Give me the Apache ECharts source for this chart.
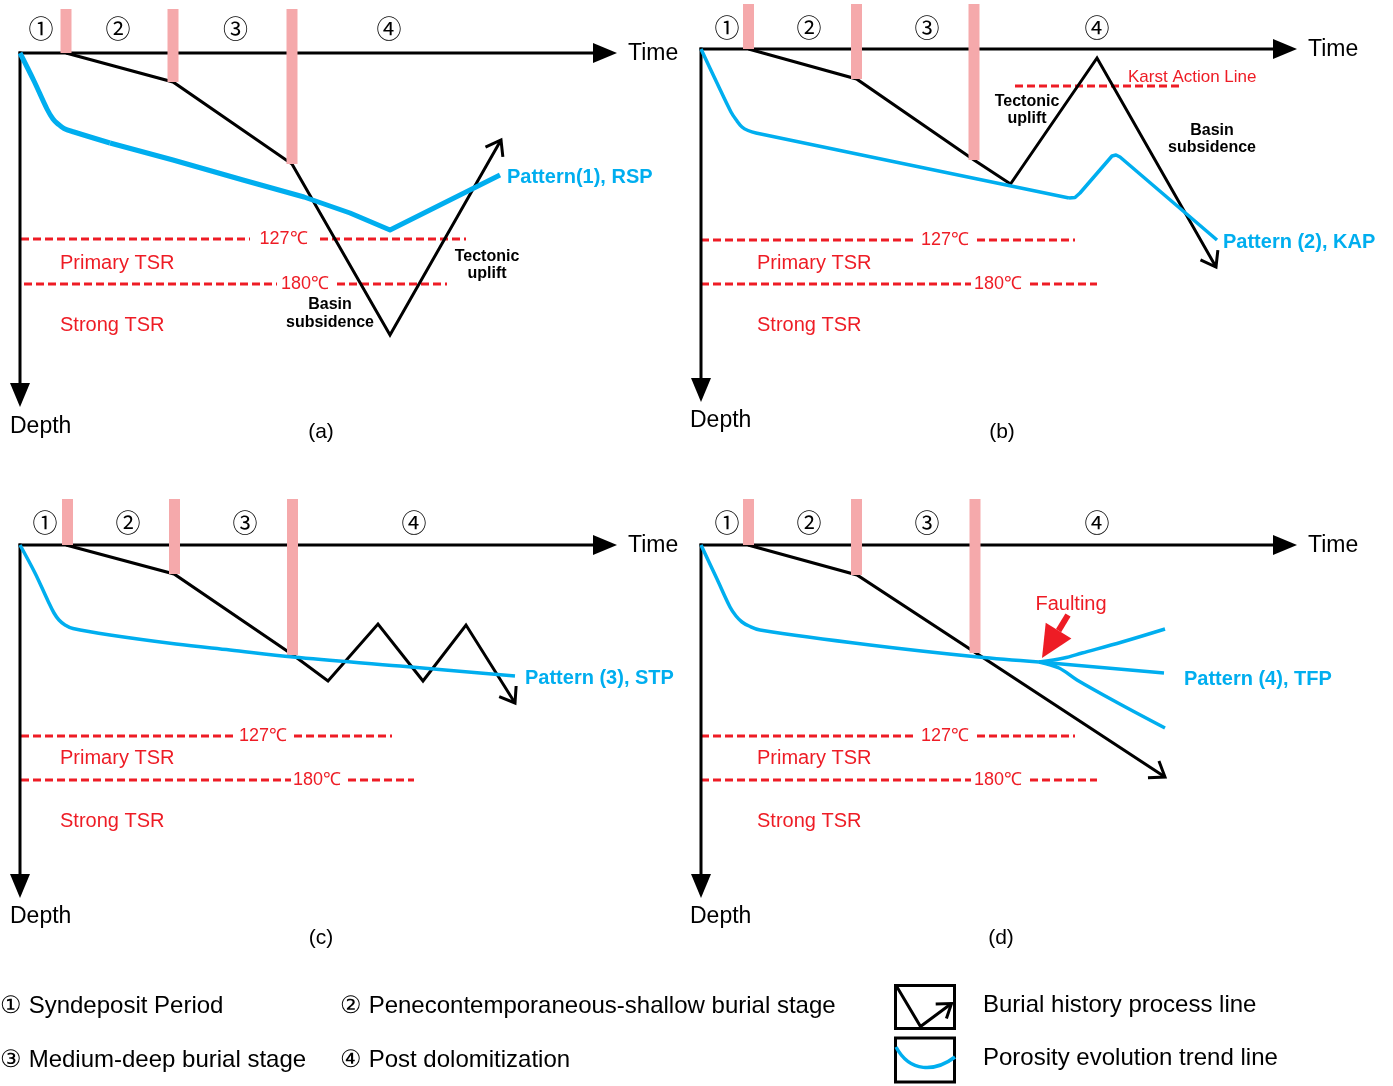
<!DOCTYPE html>
<html><head><meta charset="utf-8">
<script src="https://cdn.jsdelivr.net/npm/echarts@6/dist/echarts.min.js"></script>
<style>html,body{margin:0;padding:0;background:#fff}#c{width:1393px;height:1086px}</style>
</head><body><div id="c"></div>
<script>
// ---------------- DATA (time units → right, depth units → down) ----------------
const stageLabels = ['①', '②', '③', '④'];
const panelLetters = ['(a)', '(b)', '(c)', '(d)'];
const patternNames = ['Pattern(1), RSP', 'Pattern (2), KAP', 'Pattern (3), STP', 'Pattern (4), TFP'];
const tempLabels = ['127℃', '180℃'];
const zoneLabels = ['Primary TSR', 'Strong TSR'];
const axisNames = ['Time', 'Depth'];
const legendStages = ['① Syndeposit Period', '② Penecontemporaneous-shallow burial stage',
                      '③ Medium-deep burial stage', '④ Post dolomitization'];
const legendLines = ['Burial history process line', 'Porosity evolution trend line'];

// Panel (a) — Pattern(1), RSP
const burialA = [[46, 0], [153, 29], [272, 111], [370, 282], [481, 87]];
const porosityA = [[0, 0], [14, 28], [27, 56], [33, 66], [38, 71], [44, 75.5], [54, 79], [90, 90], [153, 107],
                   [223, 127], [284, 144], [330, 160], [370, 177], [480, 122]];
const stageXA = [46, 153, 272];
const stageDepthA = [0, 29, 111];
const tempDepthA = [186, 231];
const temp127SegA = [[1, 230], [300, 446]];
const temp180SegA = [[4, 257], [317, 427]];

// Panel (b) — Pattern (2), KAP
const burialB = [[47.5, 0], [155.5, 30], [273, 111], [309.5, 135], [396, 9], [515, 218]];
const porosityB = [[0, 0], [16, 34], [30, 63], [36, 72], [41, 78], [47, 81.5], [55, 84], [368, 149], [374, 148.5],
                   [379, 144], [411, 107], [415, 106], [419, 108], [516, 191]];
const stageXB = [47.5, 155.5, 273];
const stageDepthB = [0, 30, 111];
const tempDepthB = [191, 235];
const temp127SegB = [[0, 216], [276, 374]];
const temp180SegB = [[0, 270], [329, 396]];
const karstDepthB = 37;
const karstSegB = [314, 480];

// Panel (c) — Pattern (3), STP
const burialC = [[46, 0], [154, 29], [273, 110], [308, 136], [358, 79], [403, 136], [446, 80], [495, 158]];
const porosityC = [[0, 0], [15, 28], [28, 56], [34, 68], [39, 75], [45, 80], [53, 83.5], [90, 90],
                   [156, 99], [210, 105], [273, 112], [380, 121], [495, 131]];
const stageXC = [47.5, 154.5, 272.5];
const stageDepthC = [0, 29, 110];
const tempDepthC = [191, 235];
const temp127SegC = [[1, 216], [274, 372]];
const temp180SegC = [[1, 271], [328, 394]];

// Panel (d) — Pattern (4), TFP
const burialD = [[47, 0], [156, 30], [464, 232]];
const porosityD = [[0, 0], [16, 34], [29, 62], [35, 71], [41, 77], [48, 81], [59, 85], [169, 100],
                   [277, 112], [338, 117]];
const porosityUpD = [[338, 117], [363, 113], [381, 108], [421, 97], [464, 84]];
const porosityMidD = [[338, 117], [463, 128]];
const porosityDownD = [[338, 117], [358, 123], [376, 135], [417, 158], [464, 183]];
const stageXD = [47.5, 155.5, 274];
const stageDepthD = [0, 30, 108];
const tempDepthD = [191, 235];
const temp127SegD = [[0, 216], [276, 374]];
const temp180SegD = [[0, 270], [329, 396]];
const faultArrowD = [[367, 70], [341, 113]];

// ---------------- STYLE ----------------
const BLACK = '#000000', BLUE = '#00AEEF', RED = '#EE1C25', PINK = '#F5A9AB';
const FONT = '"Liberation Sans", Arial, sans-serif';

function headPts(p, q, len, half) {
  const dx = q[0] - p[0], dy = q[1] - p[1], L = Math.hypot(dx, dy) || 1;
  const ux = dx / L, uy = dy / L;
  const bx = q[0] - ux * len, by = q[1] - uy * len;
  return [[bx - uy * half, by + ux * half], [q[0], q[1]], [bx + uy * half, by - ux * half]];
}

// each porosity curve: [points, index where the smooth knee ends (null = whole curve smooth, -1 = none)]
const panels = [
  { origin: [20, 53], burial: burialA, porosity: [[porosityA, 6]], blueW: 5, stageX: stageXA, stageDepth: stageDepthA, barTop: -44,
    temps: [{ d: tempDepthA[0], segs: temp127SegA, lx: 263.5 }, { d: tempDepthA[1], segs: temp180SegA, lx: 285 }],
    tips: [597, 354], stageLX: [21, 98, 215.5, 369], stageLY: -25, zoneX: 40, zoneY: [210, 272],
    patternAt: [487, 124], timeAt: [608, 1], depthAt: [-10, 374], letterAt: [301, 379],
    notes: [['Basin', 310, 252], ['subsidence', 310, 270], ['Tectonic', 467, 204], ['uplift', 467, 221]] },
  { origin: [701, 49], burial: burialB, porosity: [[porosityB, 6]], blueW: 3.5, stageX: stageXB, stageDepth: stageDepthB, barTop: -45,
    temps: [{ d: tempDepthB[0], segs: temp127SegB, lx: 244 }, { d: tempDepthB[1], segs: temp180SegB, lx: 297 }],
    tips: [596, 353], stageLX: [26, 108, 226, 396], stageLY: -22, zoneX: 56, zoneY: [214, 276],
    patternAt: [522, 193], timeAt: [607, 1], depthAt: [-11, 372], letterAt: [301, 383],
    notes: [['Tectonic', 326, 53], ['uplift', 326, 70], ['Basin', 511, 82], ['subsidence', 511, 99]],
    karst: true },
  { origin: [20, 545], burial: burialC, porosity: [[porosityC, null]], blueW: 3.5, stageX: stageXC, stageDepth: stageDepthC, barTop: -46,
    temps: [{ d: tempDepthC[0], segs: temp127SegC, lx: 243 }, { d: tempDepthC[1], segs: temp180SegC, lx: 297 }],
    tips: [597, 353], stageLX: [25, 108, 225, 394], stageLY: -23, zoneX: 40, zoneY: [213, 276],
    patternAt: [505, 133], timeAt: [608, 1], depthAt: [-10, 372], letterAt: [301, 393], notes: [] },
  { origin: [701, 545], burial: burialD,
    porosity: [[porosityD, null], [porosityUpD, null], [porosityMidD, -1], [porosityDownD, null]], blueW: 3.5,
    stageX: stageXD, stageDepth: stageDepthD, barTop: -46,
    temps: [{ d: tempDepthD[0], segs: temp127SegD, lx: 244 }, { d: tempDepthD[1], segs: temp180SegD, lx: 297 }],
    tips: [596, 353], stageLX: [26, 108, 226, 396], stageLY: -23, zoneX: 56, zoneY: [213, 276],
    patternAt: [483, 134], timeAt: [607, 1], depthAt: [-11, 372], letterAt: [300, 393], notes: [],
    fault: true }
];

const YMIN = -48, YMAX = 360, XMAX = 600;
const grids = [], xAxes = [], yAxes = [], series = [];

const textStyles = {
  stage: { font: '25px "Noto Sans CJK SC", "DejaVu Sans", sans-serif', fill: BLACK, align: 'center' },
  temp: { font: '18px ' + FONT, fill: RED, align: 'center' },
  zone: { font: '20px ' + FONT, fill: RED, align: 'left' },
  note: { font: 'bold 16px ' + FONT, fill: BLACK, align: 'center' },
  pattern: { font: 'bold 20px ' + FONT, fill: BLUE, align: 'left' },
  axis: { font: '23px ' + FONT, fill: BLACK, align: 'left' },
  letter: { font: '21px ' + FONT, fill: BLACK, align: 'center' },
  karst: { font: '17px ' + FONT, fill: RED, align: 'left' },
  fault: { font: '20px ' + FONT, fill: RED, align: 'center' }
};

function lineSeries(g, data, color, width, z, dash, smooth) {
  return { type: 'line', xAxisIndex: g, yAxisIndex: g, data: data, symbol: 'none', showSymbol: false,
    silent: true, clip: false, z: z, animation: false, smooth: smooth || false,
    lineStyle: { color: color, width: width, type: dash || 'solid', cap: 'butt', join: 'round' } };
}

panels.forEach(function (P, g) {
  grids.push({ left: P.origin[0], top: P.origin[1] + YMIN, width: XMAX, height: YMAX - YMIN });
  xAxes.push({ gridIndex: g, type: 'value', min: 0, max: XMAX, show: false });
  yAxes.push({ gridIndex: g, type: 'value', min: YMIN, max: YMAX, inverse: true, show: false });

  // temperature dashed lines
  P.temps.forEach(function (t) {
    t.segs.forEach(function (s) {
      series.push(lineSeries(g, [[s[0], t.d], [s[1], t.d]], RED, 3, 3, [8, 4]));
    });
  });
  if (P.karst) series.push(lineSeries(g, [[karstSegB[0], karstDepthB], [karstSegB[1], karstDepthB]], RED, 3, 3, [8, 4]));

  // burial history line
  const b = lineSeries(g, P.burial, BLACK, 3, 5);
  b.lineStyle.join = 'miter';
  series.push(b);

  // stage boundary bars
  P.stageX.forEach(function (x, i) {
    series.push(lineSeries(g, [[x, P.barTop], [x, P.stageDepth[i]]], PINK, 11, 6));
  });

  // porosity lines
  P.porosity.forEach(function (c) {
    const arr = c[0], k = c[1];
    if (k === null) {
      series.push(lineSeries(g, arr, BLUE, P.blueW, 7, null, 0.35));
    } else if (k < 0) {
      series.push(lineSeries(g, arr, BLUE, P.blueW, 7));
    } else {
      series.push(lineSeries(g, arr.slice(0, k + 2), BLUE, P.blueW, 7, null, 0.35));
      series.push(lineSeries(g, arr.slice(k + 1), BLUE, P.blueW, 7));
    }
  });

  // decorations: axes with arrow heads, burial end chevron, fault arrow
  const decor = [
    { k: 'axis', from: [-1.5, 0], to: [P.tips[0], 0] },
    { k: 'axis', from: [0, -1.5], to: [0, P.tips[1]] },
    { k: 'chev', line: P.burial }
  ];
  if (P.fault) decor.push({ k: 'fat', from: faultArrowD[0], to: faultArrowD[1] });
  series.push({
    type: 'custom', xAxisIndex: g, yAxisIndex: g, z: 5, silent: true, animation: false,
    data: decor.map(function () { return [0, 0]; }),
    renderItem: function (params, api) {
      const it = decor[params.dataIndex];
      if (it.k === 'axis') {
        const p = api.coord(it.from), q = api.coord(it.to);
        const h = headPts(p, q, 24, 10);
        const base = [(h[0][0] + h[2][0]) / 2, (h[0][1] + h[2][1]) / 2];
        return { type: 'group', children: [
          { type: 'line', shape: { x1: p[0], y1: p[1], x2: base[0], y2: base[1] }, style: { stroke: BLACK, lineWidth: 3 } },
          { type: 'polygon', shape: { points: h }, style: { fill: BLACK } }
        ] };
      }
      if (it.k === 'chev') {
        const n = it.line.length;
        const p = api.coord(it.line[n - 2]), q = api.coord(it.line[n - 1]);
        const h = headPts(p, q, 13.8, 10);
        return { type: 'polyline', shape: { points: h }, style: { stroke: BLACK, lineWidth: 3, fill: null, lineJoin: 'miter' } };
      }
      const p = api.coord(it.from), q = api.coord(it.to);
      const h = headPts(p, q, 32, 15);
      const base = [(h[0][0] + h[2][0]) / 2, (h[0][1] + h[2][1]) / 2];
      return { type: 'group', children: [
        { type: 'line', shape: { x1: p[0], y1: p[1], x2: base[0], y2: base[1] }, style: { stroke: RED, lineWidth: 6 } },
        { type: 'polygon', shape: { points: h }, style: { fill: RED } }
      ] };
    }
  });

  // texts
  const texts = [];
  stageLabels.forEach(function (s, i) { texts.push([P.stageLX[i], P.stageLY, s, 'stage']); });
  P.temps.forEach(function (t, i) { texts.push([t.lx, t.d, tempLabels[i], 'temp']); });
  zoneLabels.forEach(function (s, i) { texts.push([P.zoneX, P.zoneY[i], s, 'zone']); });
  P.notes.forEach(function (n) { texts.push([n[1], n[2], n[0], 'note']); });
  texts.push([P.patternAt[0], P.patternAt[1], patternNames[g], 'pattern']);
  texts.push([P.timeAt[0], P.timeAt[1], axisNames[0], 'axis']);
  texts.push([P.depthAt[0], P.depthAt[1], axisNames[1], 'axis']);
  texts.push([P.letterAt[0], P.letterAt[1], panelLetters[g], 'letter']);
  if (P.karst) texts.push([427, 28, 'Karst Action Line', 'karst']);
  if (P.fault) texts.push([370, 59, 'Faulting', 'fault']);
  series.push({
    type: 'custom', xAxisIndex: g, yAxisIndex: g, z: 8, silent: true, animation: false,
    data: texts.map(function () { return [0, 0]; }),
    renderItem: function (params, api) {
      const t = texts[params.dataIndex];
      const st = textStyles[t[3]];
      const p = api.coord([t[0], t[1]]);
      return { type: 'text', x: p[0], y: p[1],
        style: { text: t[2], font: st.font, fill: st.fill, align: st.align, verticalAlign: 'middle' } };
    }
  });
});

// legend (keys drawn as graphics)
const chevLegend = headPts([920.5, 1026.5], [951.5, 1003.5], 13, 9);
const graphic = [
  { type: 'rect', shape: { x: 895.5, y: 985.5, width: 59, height: 43 }, style: { fill: null, stroke: BLACK, lineWidth: 3 } },
  { type: 'polyline', shape: { points: [[897, 987], [920.5, 1026.5], [951.5, 1003.5]] }, style: { fill: null, stroke: BLACK, lineWidth: 3 } },
  { type: 'polyline', shape: { points: chevLegend }, style: { fill: null, stroke: BLACK, lineWidth: 3 } },
  { type: 'rect', shape: { x: 895.5, y: 1038, width: 59, height: 44 }, style: { fill: null, stroke: BLACK, lineWidth: 3 } },
  { type: 'bezierCurve', shape: { x1: 896, y1: 1047, cpx1: 910, cpy1: 1073, cpx2: 935, cpy2: 1072, x2: 955, y2: 1057 },
    style: { fill: null, stroke: BLUE, lineWidth: 3.5 } }
];
const legendFont = '24px ' + FONT;
[[0, 1006], [340, 1006], [0, 1060], [340, 1060]].forEach(function (pos, i) {
  graphic.push({ type: 'text', x: pos[0], y: pos[1], style: { text: legendStages[i], font: legendFont, fill: BLACK, align: 'left', verticalAlign: 'middle' } });
});
[[983, 1005], [983, 1058]].forEach(function (pos, i) {
  graphic.push({ type: 'text', x: pos[0], y: pos[1], style: { text: legendLines[i], font: legendFont, fill: BLACK, align: 'left', verticalAlign: 'middle' } });
});

const chart = echarts.init(document.getElementById('c'), null, { renderer: 'canvas' });
chart.setOption({
  backgroundColor: '#ffffff',
  animation: false,
  grid: grids, xAxis: xAxes, yAxis: yAxes,
  series: series,
  graphic: graphic
});
</script>
</body></html>
